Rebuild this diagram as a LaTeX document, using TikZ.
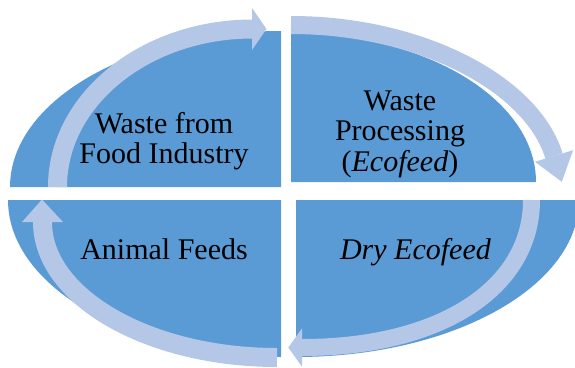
\documentclass[tikz,border=0pt]{standalone}
\usepackage{fontspec}
\setmainfont{Liberation Serif}
\definecolor{quad}{HTML}{5B9BD5}
\definecolor{arr}{HTML}{B4C7E7}
\begin{document}
\begin{tikzpicture}[x=1pt,y=-1pt,
  quadrant/.style={fill=quad,draw=none},
  arrowbody/.style={draw=arr,line cap=butt},
  arrowhead/.style={fill=arr,draw=none},
  lbl/.style={anchor=base,inner sep=0pt,font=\fontsize{30}{30}\selectfont,text=black}]
\useasboundingbox (0,0) rectangle (575,367);
\clip (0,0) rectangle (575,367);
% quadrants
\path[quadrant] (281,187) -- (10,187) .. controls (10,100.8) and (131.3,31) .. (281,31) -- cycle;
\path[quadrant] (291,182) -- (291,33) .. controls (426.3,33) and (536,99.7) .. (536,182) -- cycle;
\path[quadrant] (281,200) -- (8,200) .. controls (8,286.7) and (130.2,357) .. (281,357) -- cycle;
\path[quadrant] (296,200) -- (579,200) .. controls (579,286.7) and (452.3,357) .. (296,357) -- cycle;
% arrows
\coordinate (tlA) at (57.5,187);
\coordinate (tlB) at (252.5,29);
\draw[arrowbody,line width=19pt] (tlA) .. controls (57.5,100) and (145,29) .. (tlB);
\path[arrowhead] (252,8) -- (266.5,29) -- (252,50) -- cycle;
\coordinate (trA) at (291,25);
\coordinate (trB) at (554,156);
\draw[arrowbody,line width=18pt] (trA) .. controls (421,25) and (532.2,84.2) .. (trB);
\path[arrowhead] (534.9,161.8) -- (561.8,181.8) -- (573.1,150.2) -- cycle;
\coordinate (brA) at (531.5,200);
\coordinate (brB) at (302,347.5);
\draw[arrowbody,line width=17pt] (brA) .. controls (531.5,288.5) and (439.7,347.5) .. (brB);
\path[arrowhead] (302,328.3) -- (288.3,347.5) -- (302,366.7) -- cycle;
\coordinate (blA) at (277,357.5);
\coordinate (blB) at (42.5,222);
\draw[arrowbody,line width=19pt] (blA) .. controls (148,357.5) and (42.5,296.5) .. (blB);
\path[arrowhead] (22,222) -- (42,199.5) -- (63,222) -- cycle;
% labels
\node[lbl] (t1a) at (164,133.3) {Waste from};
\node[lbl] (t1b) at (164,163.3) {Food Industry};
\node[lbl] (t2a) at (400,110) {Waste};
\node[lbl] (t2b) at (400,140) {Processing};
\node[lbl] (t2c) at (400,171) {(\textit{Ecofeed})};
\node[lbl] (t3) at (164,259) {Animal Feeds};
\node[lbl] (t4) at (415.5,259) {\textit{Dry Ecofeed}};
\end{tikzpicture}
\end{document}
